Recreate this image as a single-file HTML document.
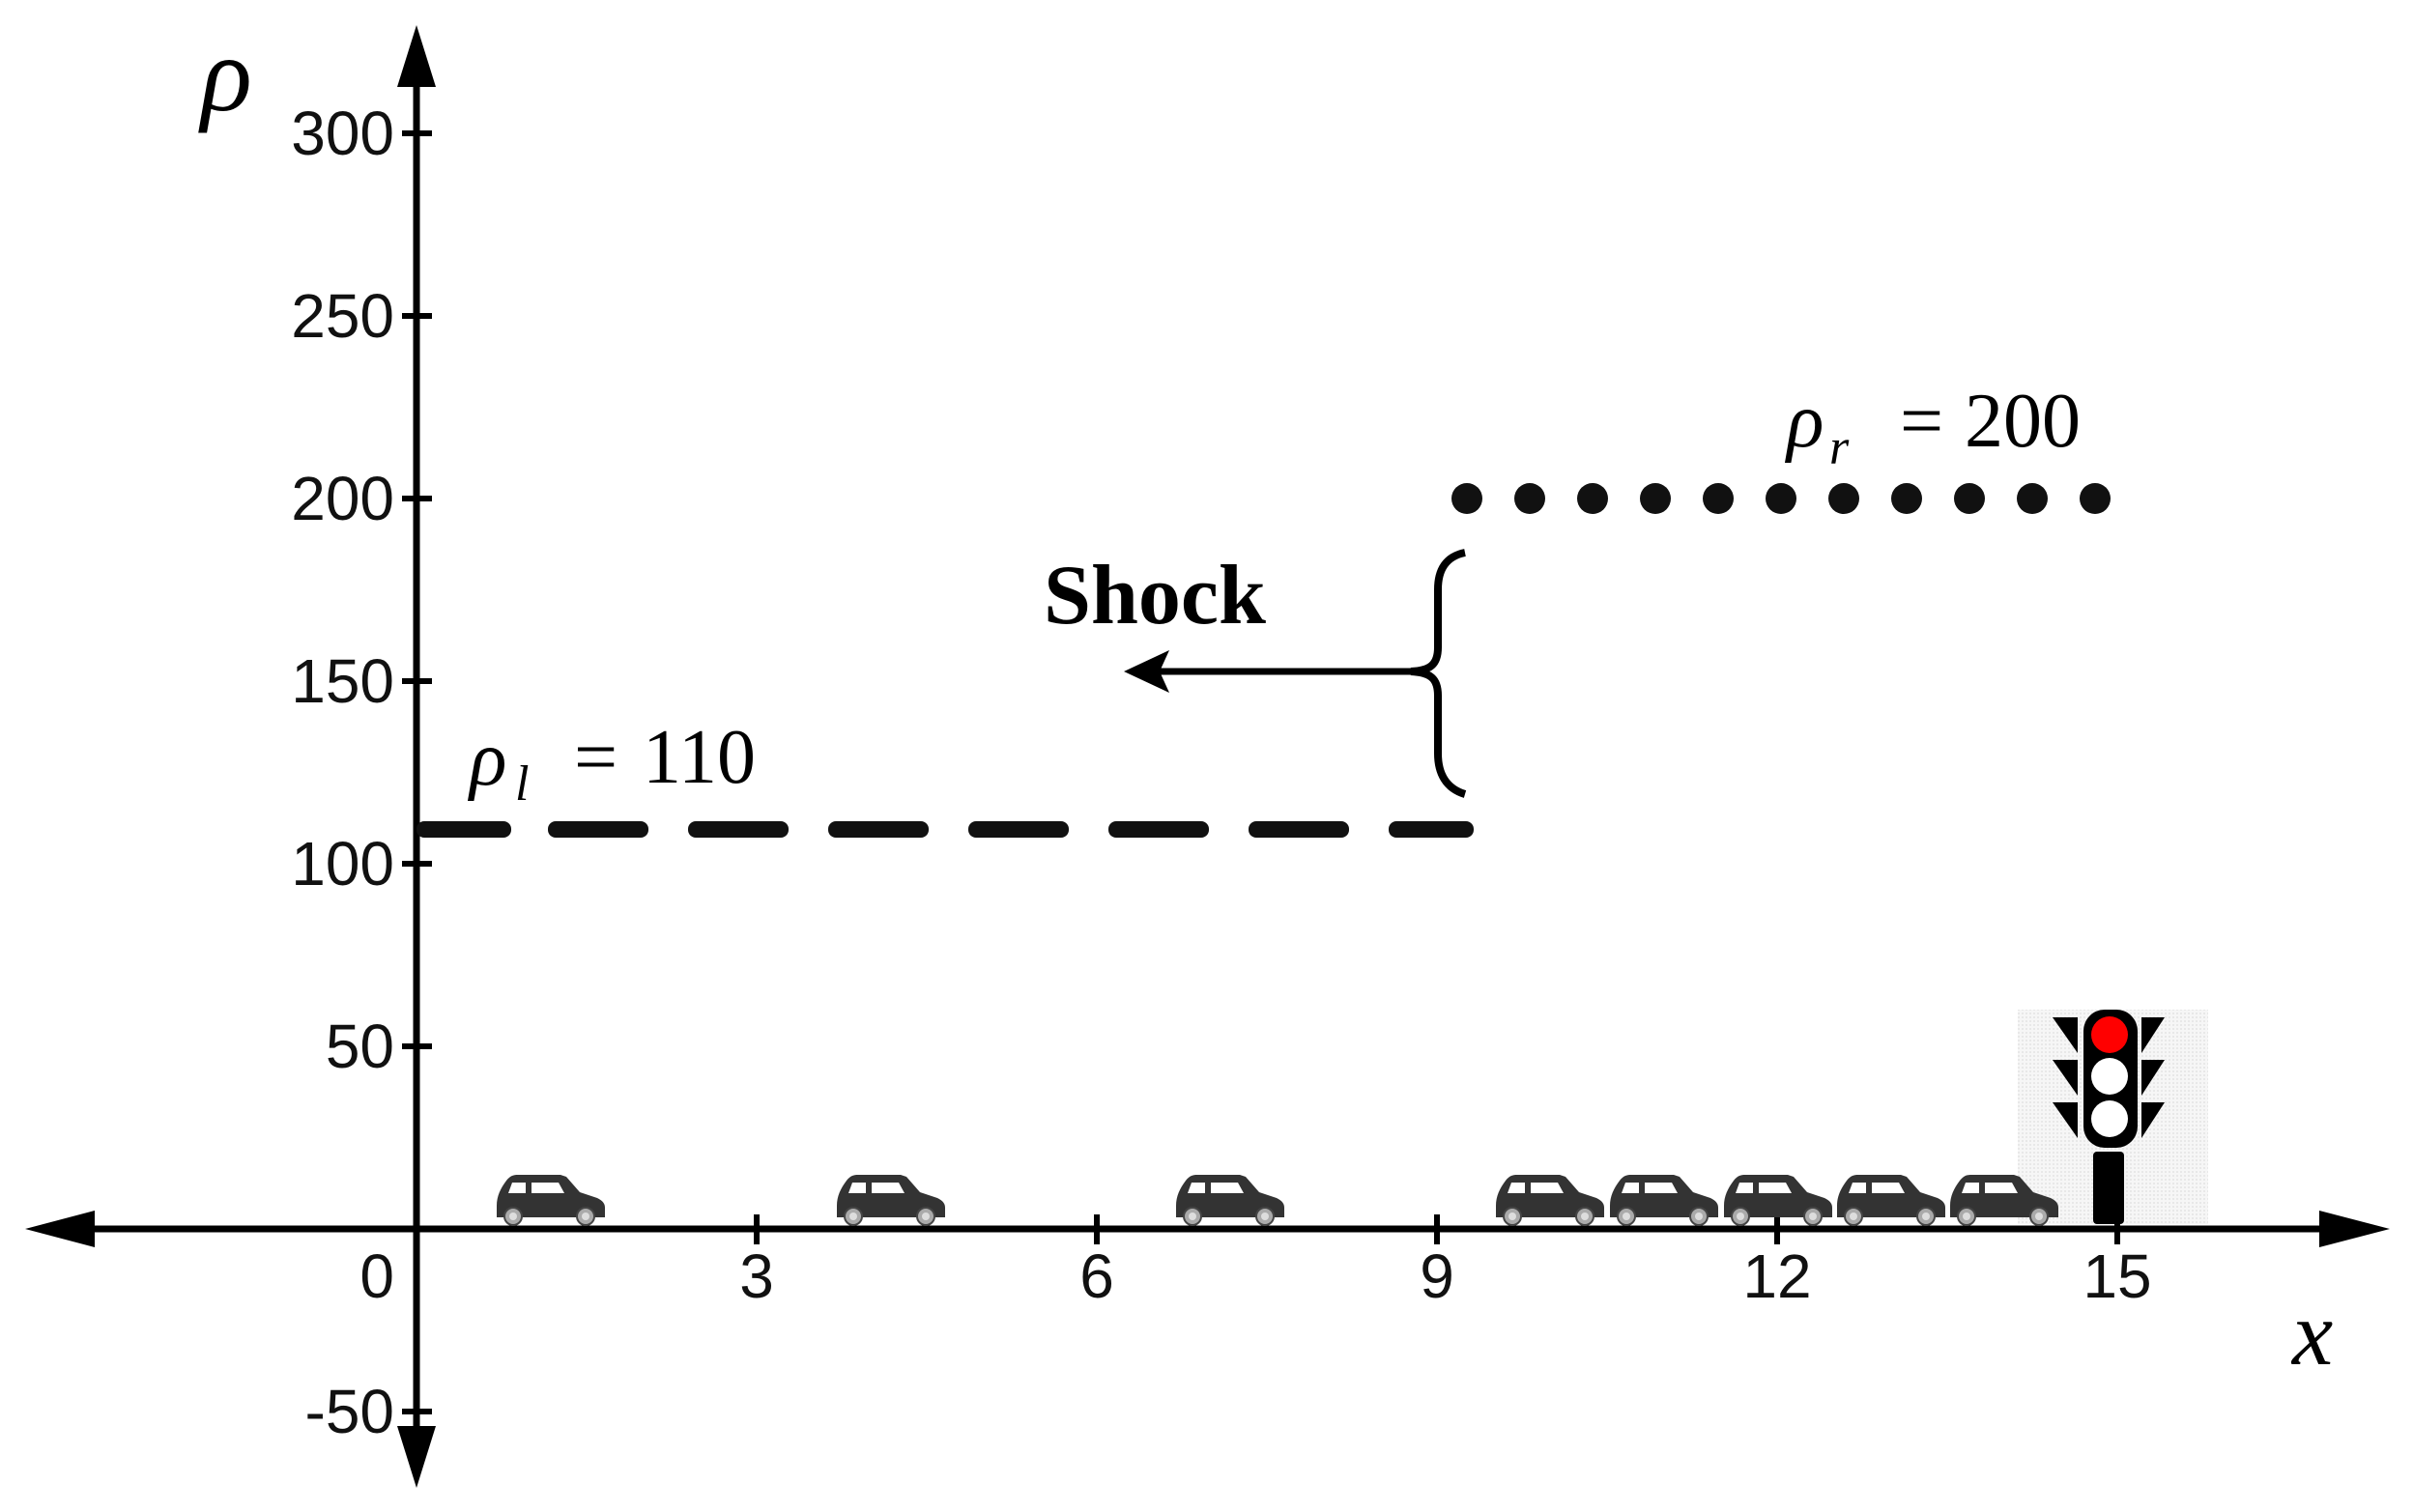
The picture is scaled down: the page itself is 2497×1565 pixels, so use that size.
<!DOCTYPE html>
<html><head><meta charset="utf-8"><style>
html,body{margin:0;padding:0;background:#fff}
svg{display:block}
</style></head><body>
<svg width="2497" height="1565" viewBox="0 0 2497 1565" xmlns="http://www.w3.org/2000/svg">
<defs>
<pattern id="dots" width="4" height="4" patternUnits="userSpaceOnUse">
<rect width="4" height="4" fill="#f6f6f6"/><rect width="2" height="2" fill="#e8e8e8"/>
</pattern>
<g id="car">
<path d="M0,32 C0,22 4,14 10,6 C14,1 17,0 22,0 L66,0 L72,2 L86,18 L104,24 C110,27 112,30 112,34 L112,44 L0,44 Z" fill="#333"/>
<path d="M16,8 L30,8 L30,19 L12,19 Z" fill="#fff"/>
<path d="M36,8 L64,8 L70,19 L36,19 Z" fill="#fff"/>
<circle cx="17" cy="43" r="9" fill="#aaa" stroke="#444" stroke-width="2"/>
<circle cx="92" cy="43" r="9" fill="#aaa" stroke="#444" stroke-width="2"/>
<circle cx="17" cy="43" r="4" fill="#ddd"/>
<circle cx="92" cy="43" r="4" fill="#ddd"/>
</g>
</defs>

<rect x="2088" y="1045" width="197" height="222" fill="url(#dots)"/>

<line x1="90" y1="1272" x2="2410" y2="1272" stroke="#000" stroke-width="7"/>
<polygon points="26,1272 98,1253 98,1291" fill="#000"/>
<polygon points="2473,1272 2400,1253 2400,1291" fill="#000"/>
<line x1="431" y1="85" x2="431" y2="1480" stroke="#000" stroke-width="7"/>
<polygon points="431,26 411,90 451,90" fill="#000"/>
<polygon points="431,1540 411,1476 451,1476" fill="#000"/>

<g stroke="#000" stroke-width="6">
<line x1="416" y1="138" x2="447" y2="138"/>
<line x1="416" y1="327" x2="447" y2="327"/>
<line x1="416" y1="516" x2="447" y2="516"/>
<line x1="416" y1="705" x2="447" y2="705"/>
<line x1="416" y1="894" x2="447" y2="894"/>
<line x1="416" y1="1083" x2="447" y2="1083"/>
<line x1="416" y1="1461" x2="447" y2="1461"/>
<line x1="783" y1="1257" x2="783" y2="1288"/>
<line x1="1135" y1="1257" x2="1135" y2="1288"/>
<line x1="1487" y1="1257" x2="1487" y2="1288"/>
<line x1="1839" y1="1257" x2="1839" y2="1288"/>
<line x1="2191" y1="1257" x2="2191" y2="1288"/>
</g>
<g font-family="Liberation Sans, sans-serif" font-size="64" fill="#111" text-anchor="end">
<text x="408" y="160">300</text>
<text x="408" y="349">250</text>
<text x="408" y="538">200</text>
<text x="408" y="727">150</text>
<text x="408" y="916">100</text>
<text x="408" y="1105">50</text>
<text x="408" y="1483">-50</text>
<text x="408" y="1343">0</text>
</g>
<g font-family="Liberation Sans, sans-serif" font-size="64" fill="#111" text-anchor="middle">
<text x="783" y="1343">3</text>
<text x="1135" y="1343">6</text>
<text x="1487" y="1343">9</text>
<text x="1839" y="1343">12</text>
<text x="2191" y="1343">15</text>
</g>

<text x="208" y="114" font-family="Liberation Serif, serif" font-style="italic" font-size="110" fill="#000">ρ</text>
<text x="2372" y="1412" font-family="Liberation Serif, serif" font-style="italic" font-size="95" fill="#000">x</text>

<g fill="#111">
<rect x="431" y="850" width="98" height="17" rx="8"/>
<rect x="567" y="850" width="104" height="17" rx="8"/>
<rect x="712" y="850" width="104" height="17" rx="8"/>
<rect x="857" y="850" width="104" height="17" rx="8"/>
<rect x="1002" y="850" width="104" height="17" rx="8"/>
<rect x="1147" y="850" width="104" height="17" rx="8"/>
<rect x="1292" y="850" width="104" height="17" rx="8"/>
<rect x="1437" y="850" width="88" height="17" rx="8"/>
</g>
<g font-family="Liberation Serif, serif" font-size="80" fill="#000">
<text x="486" y="812" font-style="italic">ρ</text>
<text x="533" y="828" font-style="italic" font-size="52">l</text>
<text x="594" y="810">=</text>
<text x="665" y="810">110</text>
</g>

<g fill="#111">
<circle cx="1518" cy="516" r="16"/><circle cx="1583" cy="516" r="16"/><circle cx="1648" cy="516" r="16"/>
<circle cx="1713" cy="516" r="16"/><circle cx="1778" cy="516" r="16"/><circle cx="1843" cy="516" r="16"/>
<circle cx="1908" cy="516" r="16"/><circle cx="1973" cy="516" r="16"/><circle cx="2038" cy="516" r="16"/>
<circle cx="2103" cy="516" r="16"/><circle cx="2168" cy="516" r="16"/>
</g>
<g font-family="Liberation Serif, serif" font-size="80" fill="#000">
<text x="1849" y="462" font-style="italic">ρ</text>
<text x="1893" y="480" font-style="italic" font-size="52">r</text>
<text x="1966" y="462">=</text>
<text x="2033" y="462">200</text>
</g>

<text x="1080" y="645" font-family="Liberation Serif, serif" font-weight="bold" font-size="88" fill="#000">Shock</text>
<line x1="1200" y1="695" x2="1462" y2="695" stroke="#000" stroke-width="7"/>
<polygon points="1163,695 1210,673 1200,695 1210,717" fill="#000"/>
<path d="M1516,572 C1496,576 1488,590 1488,610 L1488,670 C1488,688 1480,694 1460,695 C1480,696 1488,702 1488,720 L1488,780 C1488,800 1496,816 1516,822" fill="none" stroke="#000" stroke-width="8"/>

<use href="#car" x="514" y="1216"/>
<use href="#car" x="866" y="1216"/>
<use href="#car" x="1217" y="1216"/>
<use href="#car" x="1548" y="1216"/>
<use href="#car" x="1666" y="1216"/>
<use href="#car" x="1784" y="1216"/>
<use href="#car" x="1901" y="1216"/>
<use href="#car" x="2018" y="1216"/>

<rect x="2156" y="1045" width="56" height="143" rx="22" fill="#000"/>
<rect x="2166" y="1192" width="32" height="75" rx="4" fill="#000"/>
<circle cx="2183" cy="1071" r="19" fill="#f00"/>
<circle cx="2183" cy="1114" r="19" fill="#fff"/>
<circle cx="2183" cy="1158" r="19" fill="#fff"/>
<g fill="#000">
<polygon points="2124,1053 2150,1053 2150,1090"/>
<polygon points="2124,1097 2150,1097 2150,1134"/>
<polygon points="2124,1141 2150,1141 2150,1178"/>
<polygon points="2240,1053 2216,1053 2216,1090"/>
<polygon points="2240,1097 2216,1097 2216,1134"/>
<polygon points="2240,1141 2216,1141 2216,1178"/>
</g>
</svg>
</body></html>
